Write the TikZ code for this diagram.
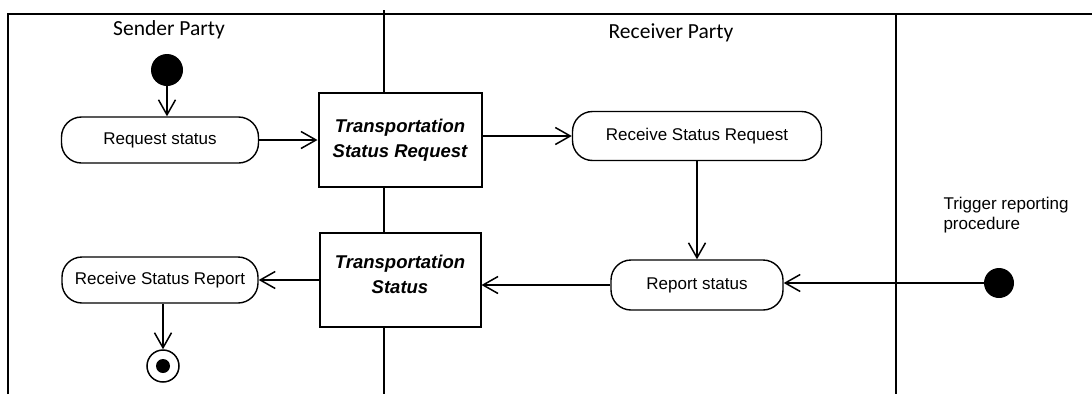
\documentclass[tikz,border=0pt]{standalone}
\usepackage{fontspec}
\setmainfont{Liberation Sans}
\newfontfamily\lanefont{Carlito}
\usetikzlibrary{arrows.meta}

\begin{document}
\begin{tikzpicture}[
    x=1pt, y=-1pt,
    lane/.style={line width=2pt},
    lanetitle/.style={font=\lanefont\fontsize{21.5}{25}\selectfont},
    action/.style={
        draw,
        line width=1.4pt,
        rounded corners=20pt,
        font=\fontsize{17}{20}\selectfont
    },
    object/.style={
        draw,
        fill=white,
        line width=2pt,
        align=center,
        font=\fontsize{18.5}{25}\selectfont\bfseries\itshape
    },
    initial/.style={circle, fill=black, inner sep=0pt, minimum size=32pt},
    final/.style={
        circle, draw, line width=1.5pt, inner sep=0pt, minimum size=32pt,
        path picture={\fill (path picture bounding box.center) circle (7pt);}
    },
    flow/.style={-{Straight Barb[length=15pt,width=17pt,line width=1.5pt]}, line width=1.5pt}
]
\useasboundingbox (0,0) rectangle (1092,394);

% swimlanes
\draw[lane] (8,394) -- (8,14) -- (1092,14);
\draw[lane] (384,10) -- (384,394);
\draw[lane] (896,14) -- (896,394);
\node[lanetitle] (sender) at (169,30) {Sender Party};
\node[lanetitle] (receiver) at (671,33) {Receiver Party};

% sender side
\node[initial] (start) at (167,70) {};
\node[action, minimum width=197pt, minimum height=46pt] (req) at (160,140) {Request status};
\node[action, minimum width=196pt, minimum height=46pt] (gotrep) at (160,280) {Receive Status Report};
\node[final] (end) at (163,366) {};

% exchanged documents
\node[object, minimum width=163pt, minimum height=94pt] (statreq) at (400,140) {Transportation\\Status Request};
\node[object, minimum width=161pt, minimum height=94pt] (stat) at (400,280) {Transportation\\Status\\[-14pt]};

% receiver side
\node[action, minimum width=249pt, minimum height=49pt] (gotreq) at (697,136) {Receive Status Request};
\node[action, minimum width=172pt, minimum height=50pt] (report) at (697,285) {Report status};

% trigger
\node[initial, minimum size=30pt] (trigger) at (999,283) {};
\node[anchor=west, align=left, font=\fontsize{17}{20}\selectfont] (triglabel) at (940,215) {Trigger reporting\\procedure};

\draw[flow] (start) -- (start |- req.north);
\draw[flow] (req.east) -- (statreq.west |- req.east);
\draw[flow] (statreq.east |- gotreq.west) -- (gotreq.west);
\draw[flow] (gotreq.south) -- (report.north);
\draw[flow] (trigger.west) -- (trigger -| report.east);
\draw[flow] (report.west) -- (report.west -| stat.east);
\draw[flow] (stat.west |- gotrep.east) -- (gotrep.east);
\draw[flow] (gotrep.south -| end) -- (end.north);
\end{tikzpicture}
\end{document}
